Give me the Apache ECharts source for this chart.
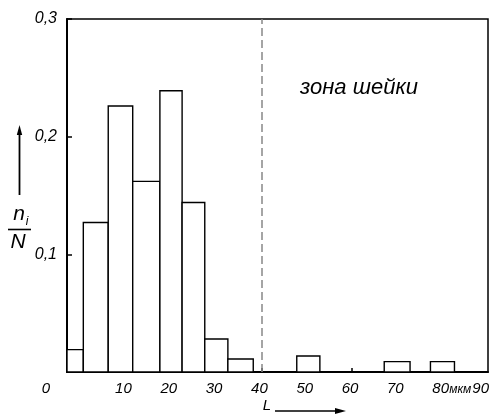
<!DOCTYPE html>
<html>
<head>
<meta charset="utf-8">
<script src="https://cdn.jsdelivr.net/npm/echarts@6/dist/echarts.min.js"></script>
<style>
html,body{margin:0;padding:0;background:#fff;}
#c{width:501px;height:414px;}
</style>
</head>
<body>
<div id="c"></div>
<script>
// Histogram bins (L in µm) and relative frequency n_i/N
const binStart = [-2.9, 0.7, 6.2, 11.6, 17.6, 22.5, 27.5, 32.6, 47.8, 67.1, 77.3];
const binEnd   = [0.7, 6.2, 11.6, 17.6, 22.5, 27.5, 32.6, 38.2, 52.9, 72.8, 82.6];
const freq     = [0.019, 0.127, 0.226, 0.162, 0.239, 0.144, 0.028, 0.011, 0.0136, 0.0088, 0.0088];
const xTicks   = [10, 20, 30, 40, 50, 60, 70, 80];
const yTicks   = [0.1, 0.2, 0.3];
const neckStart = 40;
const zoneLabel = 'зона шейки';
const unitLabel = 'мкм';

const FONT = '"Liberation Sans", Arial, sans-serif';
const chart = echarts.init(document.getElementById('c'), null, {renderer: 'canvas'});

const bins = binStart.map((s, i) => [s, binEnd[i], freq[i]]);

chart.setOption({
  animation: false,
  backgroundColor: '#fff',
  grid: {left: 67, right: 13, top: 19, bottom: 42, containLabel: false, outerBoundsMode: 'none',
         show: true, borderColor: '#000', borderWidth: 1.5, backgroundColor: 'transparent'},
  xAxis: {
    type: 'value', min: -2.9, max: 90,
    axisLine: {show: true, onZero: false, lineStyle: {color: '#000', width: 2}},
    axisTick: {show: true, inside: true, length: 4, customValues: xTicks, lineStyle: {color: '#000', width: 1.5}},
    axisLabel: {customValues: xTicks, color: '#000', fontFamily: FONT, fontStyle: 'italic', fontSize: 15, margin: 9,
                padding: [0, 4, 0, 0]},
    splitLine: {show: false}
  },
  yAxis: {
    type: 'value', min: 0, max: 0.3,
    axisLine: {show: true, onZero: false, lineStyle: {color: '#000', width: 2}},
    axisTick: {show: true, inside: true, length: 5, customValues: yTicks, lineStyle: {color: '#000', width: 1.5}},
    axisLabel: {customValues: yTicks, color: '#000', fontFamily: FONT, fontStyle: 'italic', fontSize: 16, margin: 10,
                formatter: v => v.toFixed(1).replace('.', ',')},
    splitLine: {show: false}
  },
  series: [{
    type: 'custom',
    data: bins,
    encode: {x: [0, 1], y: 2},
    renderItem: function (params, api) {
      const p0 = api.coord([api.value(0), api.value(2)]);
      const p1 = api.coord([api.value(1), 0]);
      return {
        type: 'rect',
        shape: {x: p0[0], y: p0[1], width: p1[0] - p0[0], height: p1[1] - p0[1]},
        style: {fill: '#fff', stroke: '#000', lineWidth: 1.4}
      };
    },
    markLine: {
      silent: true, symbol: 'none', label: {show: false},
      lineStyle: {color: '#888', type: [8, 4], width: 1.5},
      data: [{xAxis: neckStart}]
    },
    z: 2
  }],
  graphic: [
    {type: 'text', left: 300, top: 77, style: {text: zoneLabel, font: 'italic 22px ' + FONT, fill: '#000'}},
    {type: 'text', x: 46, y: 389, style: {text: '0', font: 'italic 15px ' + FONT, fill: '#000', align: 'center', verticalAlign: 'middle'}},
    {type: 'text', x: 489, y: 389, style: {
      text: '{u|' + unitLabel + '}{n|90}', align: 'right', verticalAlign: 'middle',
      rich: {u: {font: 'italic 12px ' + FONT, fill: '#000', padding: [2, 1, 0, 0]}, n: {font: 'italic 15px ' + FONT, fill: '#000'}}
    }},
    // y-axis name n_i / N with arrow
    {type: 'line', shape: {x1: 19.5, y1: 195, x2: 19.5, y2: 132}, style: {stroke: '#000', lineWidth: 1.8}},
    {type: 'polygon', shape: {points: [[19.5, 125], [16.8, 135], [22.2, 135]]}, style: {fill: '#000'}},
    {type: 'text', x: 19, y: 214, style: {text: 'n', font: 'italic 21px ' + FONT, fill: '#000', align: 'center', verticalAlign: 'middle'}},
    {type: 'text', x: 27, y: 222, style: {text: 'i', font: 'italic 12px ' + FONT, fill: '#000', align: 'center', verticalAlign: 'middle'}},
    {type: 'line', shape: {x1: 8, y1: 229.5, x2: 31, y2: 229.5}, style: {stroke: '#000', lineWidth: 1.6}},
    {type: 'text', x: 18, y: 242, style: {text: 'N', font: 'italic 21px ' + FONT, fill: '#000', align: 'center', verticalAlign: 'middle'}},
    // x-axis name L with arrow
    {type: 'text', x: 267, y: 406, style: {text: 'L', font: 'italic 15px ' + FONT, fill: '#000', align: 'center', verticalAlign: 'middle'}},
    {type: 'line', shape: {x1: 275, y1: 411, x2: 337, y2: 411}, style: {stroke: '#000', lineWidth: 1.5}},
    {type: 'polygon', shape: {points: [[346, 411], [335, 408], [335, 414]]}, style: {fill: '#000'}}
  ]
});
</script>
</body>
</html>
